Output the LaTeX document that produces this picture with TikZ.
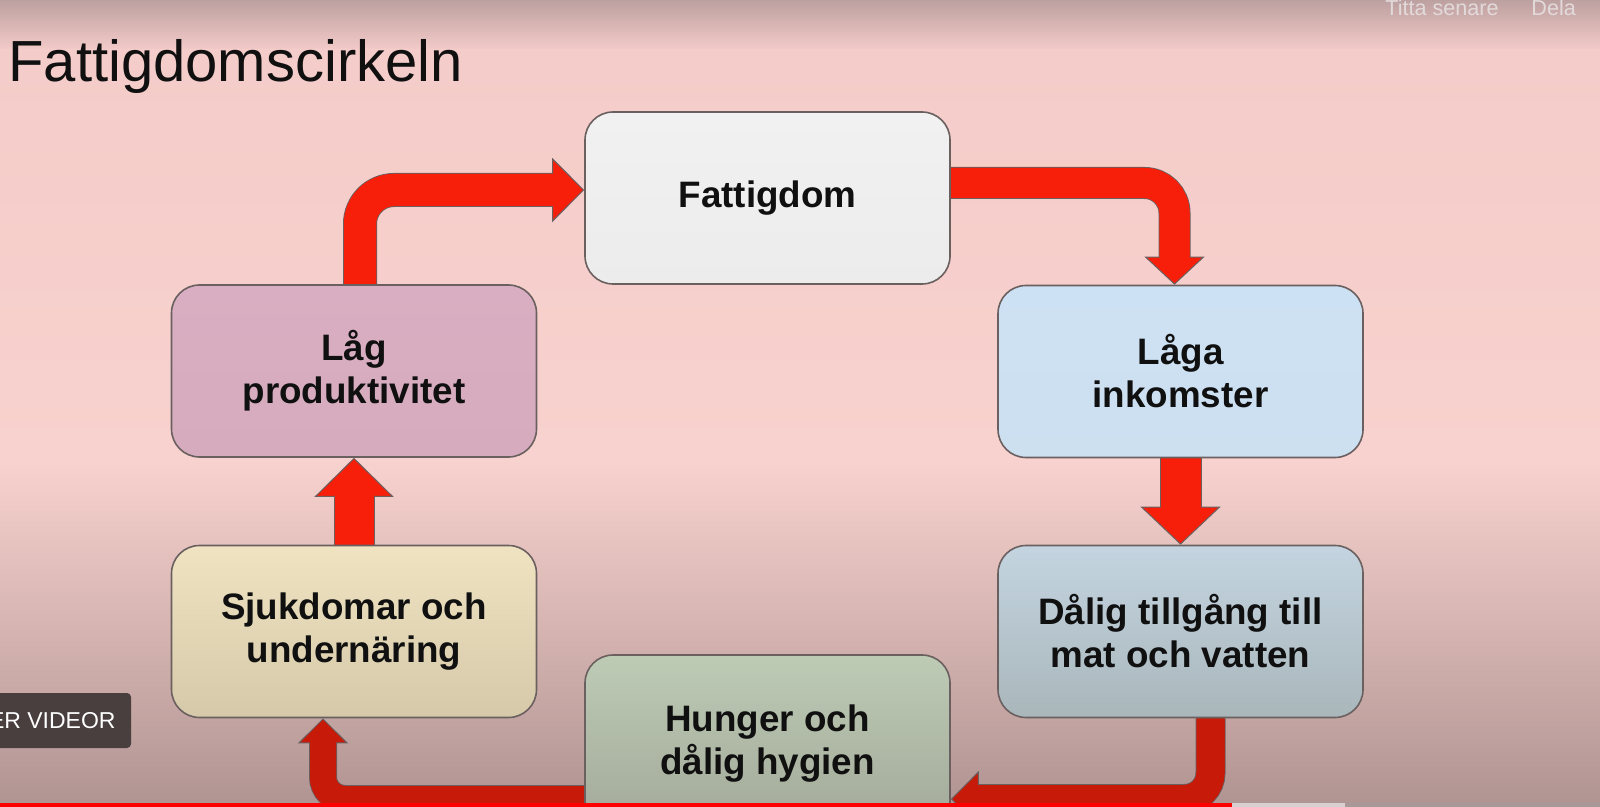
\documentclass[tikz,border=0pt]{standalone}
\usepackage{fontspec}
\setmainfont{Liberation Sans}
\usetikzlibrary{arrows.meta,calc}
\definecolor{edgec}{HTML}{6A6060}
\definecolor{ared}{HTML}{F81F0A}
\definecolor{aredd}{HTML}{C71A08}
\definecolor{txt}{HTML}{101010}
\definecolor{bgA}{HTML}{BDA0A0}
\definecolor{bgB}{HTML}{F4CCC9}
\definecolor{bgC}{HTML}{F8D2CE}
\definecolor{bgD}{HTML}{B09492}
\definecolor{fT}{HTML}{F2F1F1}\definecolor{fB}{HTML}{EDECEC}
\definecolor{liT}{HTML}{CDE1F4}\definecolor{liB}{HTML}{CDE0F0}
\definecolor{lpT}{HTML}{D9AEC2}\definecolor{lpB}{HTML}{D6ABBD}
\definecolor{dtT}{HTML}{C4D4E0}\definecolor{dtB}{HTML}{A9B7BB}
\definecolor{sjT}{HTML}{EFE3C2}\definecolor{sjB}{HTML}{D6C9A9}
\definecolor{hgT}{HTML}{BDCBB5}\definecolor{hgB}{HTML}{A2A898}
\definecolor{ovt}{HTML}{E2DADA}
\definecolor{btn}{HTML}{4A3F3F}
\definecolor{pbred}{HTML}{FF0000}
\definecolor{pbbuf}{HTML}{D8D0D0}
\definecolor{pbrest}{HTML}{A89898}
\pgfdeclarelayer{bg}
\pgfdeclarelayer{arr}
\pgfdeclarelayer{topl}
\pgfsetlayers{bg,arr,main,topl}
\tikzset{
  box/.style={draw=edgec, line width=0.8pt, rounded corners=14pt,
    minimum width=182.5pt, minimum height=86pt, inner sep=0pt,
    align=center, text=txt, font=\bfseries\fontsize{18.4}{21.5}\selectfont},
  barrow/.style n args={4}{draw=#4, line width=#1,
    -{Triangle[length=#2, width=#3, fill=#4, color=edgec, line width=0.5pt 0 0]},
    preaction={arrows=-, draw=edgec, line width=#1+1pt, shorten >=#2-1pt},
    postaction={arrows=-, draw=#4, line width=#1, shorten >=#2-2pt}},
  ovtext/.style={text=#1, font=\fontsize{10.8}{12}\selectfont, inner sep=0pt}
}
\begin{document}
\begin{tikzpicture}[x=0.5pt,y=-0.5pt]
\useasboundingbox (0,0) rectangle (1600,807);
% background
\begin{pgfonlayer}{bg}
  \shade[top color=bgA, bottom color=bgB] (0,0) rectangle (1600,51);
  \shade[top color=bgB, bottom color=bgC] (0,50) rectangle (1600,461);
  \shade[top color=bgC, bottom color=bgD] (0,460) rectangle (1600,807);
\end{pgfonlayer}
% title
\node[anchor=base west, inner sep=0pt, text=txt, font=\fontsize{29}{34}\selectfont] (title) at (8,82) {Fattigdomscirkeln};
% boxes
\node[box, top color=fT, bottom color=fB] (f) at (767.5,198) {Fattigdom};
\node[box, top color=liT, bottom color=liB] (li) at (1180.5,371.5) {Låga\\inkomster};
\node[box, top color=dtT, bottom color=dtB] (dt) at (1180.5,631.5) {Dålig tillgång till\\mat och vatten};
\node[box, minimum height=89pt, top color=hgT, bottom color=hgB] (hg) at (767.5,744) {Hunger och\\dålig hygien};
\node[box, top color=sjT, bottom color=sjB] (sj) at (354,631.5) {Sjukdomar och\\undernäring};
\node[box, top color=lpT, bottom color=lpB] (lp) at (354,371) {Låg\\produktivitet};
% arrows
\begin{pgfonlayer}{arr}
  \draw[barrow={16pt}{16pt}{32pt}{ared}, rounded corners=17pt]
    ($(lp.north)+(6,0)$) |- ($(f.west)+(0,-8)$);
  \draw[barrow={15pt}{14pt}{30pt}{ared}, rounded corners=15pt]
    ($(f.east)+(0,-15)$) -| ($(li.north)+(-6,0)$);
  \draw[barrow={20pt}{19pt}{40pt}{ared}] (li.south) -- (dt.north);
  \draw[barrow={14pt}{14pt}{28pt}{aredd}, rounded corners=13pt]
    ($(dt.south)+(30,0)$) |- ($(hg.east)+(0,55)$);
  \draw[barrow={13pt}{12.5pt}{25pt}{aredd}, rounded corners=11pt]
    ($(hg.west)+(0,55)$) -| ($(sj.south)+(-31,0)$);
  \draw[barrow={19.5pt}{19.5pt}{39.5pt}{ared}] (sj.north) -- (lp.south);
\end{pgfonlayer}
% video player overlay
\begin{pgfonlayer}{topl}
  \node[ovtext=ovt, anchor=base west] (tl) at (1385,16) {Titta senare};
  \node[ovtext=ovt, anchor=base west] (dl) at (1531,16) {Dela};
  \fill[btn, rounded corners=2pt] (-10,693) rectangle (131,748);
  \node[ovtext=white, anchor=east, font=\fontsize{11.5}{13}\selectfont] (ev) at (116,720.5) {ER VIDEOR};
  \fill[pbred] (0,803) rectangle (1232,807);
  \fill[pbbuf] (1232,803) rectangle (1345,807);
  \fill[pbrest] (1345,803) rectangle (1600,807);
\end{pgfonlayer}
\end{tikzpicture}
\end{document}
